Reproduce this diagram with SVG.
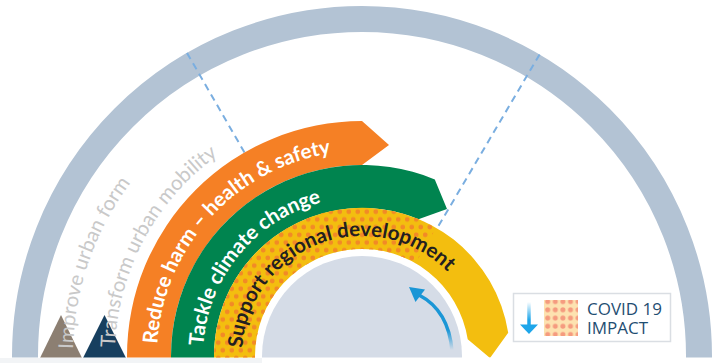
<svg xmlns="http://www.w3.org/2000/svg" width="714" height="363" viewBox="0 0 714 363">
<style>
.band-text{font-family:Lato,"Open Sans","Liberation Sans",sans-serif;font-size:20.5px;font-weight:700}
.obj-text{font-family:Lato,"Open Sans","Liberation Sans",sans-serif;font-size:20.5px;font-weight:400;fill:#c9c9c9}
.legend-text{font-family:"Open Sans","Liberation Sans",sans-serif;font-size:17px;font-weight:400;fill:#1f4e72}
.dash{fill:none;stroke:#7aaee0;stroke-width:2;stroke-dasharray:7 5}
</style>
<defs>
<clipPath id="page"><rect x="0" y="0" width="714" height="357.5"/></clipPath>
<clipPath id="covidSector"><polygon points="362,360 362,356 512,96.2 0,96.2 0,360"/></clipPath>
<pattern id="dotsBand" patternUnits="userSpaceOnUse" x="0" y="0" width="9" height="15.4">
<circle cx="2.25" cy="3.85" r="2.4" fill="#f28a26"/>
<circle cx="6.75" cy="11.55" r="2.4" fill="#f28a26"/>
</pattern>
<pattern id="dotsLegend" patternUnits="userSpaceOnUse" x="544" y="298" width="7.6" height="8.2">
<circle cx="3.7" cy="3.7" r="2.5" fill="#f59b7f"/>
</pattern>
<linearGradient id="fadeArc" gradientUnits="userSpaceOnUse" x1="0" y1="350" x2="0" y2="330">
<stop offset="0" stop-color="#1a96d6" stop-opacity="0"/>
<stop offset="1" stop-color="#1a96d6" stop-opacity="1"/>
</linearGradient>
<linearGradient id="fadeLegend" gradientUnits="userSpaceOnUse" x1="0" y1="302" x2="0" y2="320">
<stop offset="0" stop-color="#1ea6ea" stop-opacity="0"/>
<stop offset="1" stop-color="#1ea6ea" stop-opacity="1"/>
</linearGradient>
<path id="tp-improve" d="M 73,356 A 289 289 0 0 1 362,67"/>
<path id="tp-transform" d="M 115,356 A 247 247 0 0 1 362,109"/>
<path id="tp-reduce" d="M 157,356 A 205 205 0 0 1 567,356"/>
<path id="tp-tackle" d="M 203,356 A 159 159 0 0 1 521,356"/>
<path id="tp-support" d="M 242,356 A 120 120 0 0 1 482,356"/>
</defs>
<rect x="0" y="0" width="714" height="363" fill="#ffffff"/>
<rect x="0" y="358" width="262" height="5" fill="#f2f4f6"/>
<g clip-path="url(#page)">
<g id="outer-ring">
<path d="M 25,362 L 25,356 A 337 337 0 0 1 699,356 L 699,362" fill="none" stroke="#b3c3d4" stroke-width="26"/>
</g>
<g id="connectors">
<line class="dash" x1="187" y1="52.9" x2="245" y2="153.4"/>
<line class="dash" x1="539.6" y1="54.4" x2="438" y2="226.8"/>
</g>
<g id="band-reduce-harm">
<path d="M 127,362 L 127,356 A 235 235 0 0 1 362,121 L 389,145 L 362,165 A 191 191 0 0 0 171,356 L 171,362 Z" fill="#f58025"/>
<text class="band-text" fill="#ffffff"><textPath href="#tp-reduce" startOffset="12">Reduce harm – health &amp; safety</textPath></text>
</g>
<g id="band-climate">
<path d="M 171,362 L 171,356 A 191 191 0 0 1 434.8,179.4 L 447,209 L 418.4,219.2 A 148 148 0 0 0 214,356 L 214,362 Z" fill="#00844f"/>
<text class="band-text" fill="#ffffff"><textPath href="#tp-tackle" startOffset="10">Tackle climate change</textPath></text>
</g>
<g id="band-regional">
<path d="M 214,362 L 214,356 A 148 148 0 0 1 508.2,332.8 L 490,358 L 467.7,339.3 A 107 107 0 0 0 255,356 L 255,362 Z" fill="#f3be0f"/>
<path clip-path="url(#covidSector)" d="M 214,362 L 214,356 A 148 148 0 0 1 508.2,332.8 L 490,358 L 467.7,339.3 A 107 107 0 0 0 255,356 L 255,362 Z" fill="url(#dotsBand)"/>
<text class="band-text" fill="#231f20"><textPath href="#tp-support" startOffset="8">Support regional development</textPath></text>
</g>
<g id="hub">
<circle cx="362" cy="356" r="100" fill="#d5dce7"/>
<path d="M 452,351 C 450,326 440,306 419,295" fill="none" stroke="url(#fadeArc)" stroke-width="3.5"/>
<polygon points="409,287 425,289.5 415.5,302" fill="#1a96d6"/>
</g>
<g id="objective-urban-form">
<polygon points="40,358 82,358 61,315" fill="#8c7f72"/>
</g>
<g id="objective-urban-mobility">
<polygon points="83,358 126,358 104.5,315" fill="#173f5f"/>
</g>
<text class="obj-text"><textPath href="#tp-improve" startOffset="7">Improve urban form</textPath></text>
<text class="obj-text"><textPath href="#tp-transform" startOffset="8.5">Transform urban mobility</textPath></text>
</g>
<g id="legend">
<rect x="513.5" y="293.5" width="157" height="48" fill="#ffffff" stroke="#dadee3" stroke-width="1.5"/>
<line x1="529" y1="302" x2="529" y2="326" stroke="url(#fadeLegend)" stroke-width="3.5"/>
<polygon points="520,324.5 538,324.5 529,334" fill="#1ea6ea"/>
<rect x="544" y="300" width="34" height="36" fill="#fde2b0"/>
<rect x="544" y="300" width="34" height="36" fill="url(#dotsLegend)"/>
<text class="legend-text" x="587" y="315">COVID 19</text>
<text class="legend-text" x="587" y="334">IMPACT</text>
</g>
</svg>
